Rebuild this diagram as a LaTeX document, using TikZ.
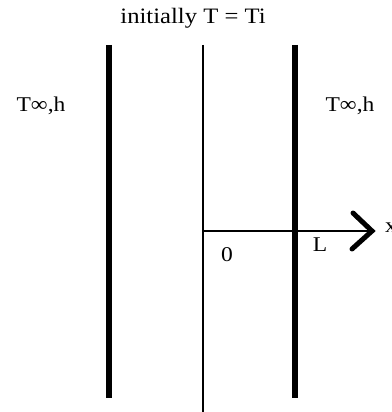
\documentclass[tikz,border=0pt]{standalone}
\usepackage{fontspec}
\setmainfont{Liberation Serif}[FakeStretch=1.12]
\begin{document}
\begin{tikzpicture}[x=1pt,y=-1pt,
  wall/.style={line width=5.5pt},
  axis/.style={line width=1.2pt},
  lbl/.style={inner sep=0pt,font=\fontsize{21}{21}\selectfont}]
\useasboundingbox (0,0) rectangle (391,412);
% walls
\coordinate (lt) at (109,45); \coordinate (lb) at (109,398);
\coordinate (rt) at (295,45); \coordinate (rb) at (295,398);
\coordinate (mt) at (203,45); \coordinate (mb) at (203,412);
\draw[wall] (lt) -- (lb);
\draw[wall] (rt) -- (rb);
\draw[axis] (mt) -- (mb);
% x axis
\coordinate (o) at (203,231);
\coordinate (tip) at (372,231);
\coordinate (a1) at (353,213);
\coordinate (a2) at (352,249);
\draw[axis] (o) -- (tip);
\draw[line width=5pt,line cap=round,line join=miter] (a1) -- (tip) -- (a2);
% labels
\node[lbl,font=\fontsize{22}{22}\selectfont] (top) at (193,18) {initially T = Ti};
\node[lbl] (tl) at (41,106) {T∞,h};
\node[lbl] (tr) at (350,106) {T∞,h};
\node[lbl] (zero) at (227,255) {0};
\node[lbl] (L) at (320,245) {L};
\node[lbl,anchor=west] (x) at (385,228) {x};
\end{tikzpicture}
\end{document}
